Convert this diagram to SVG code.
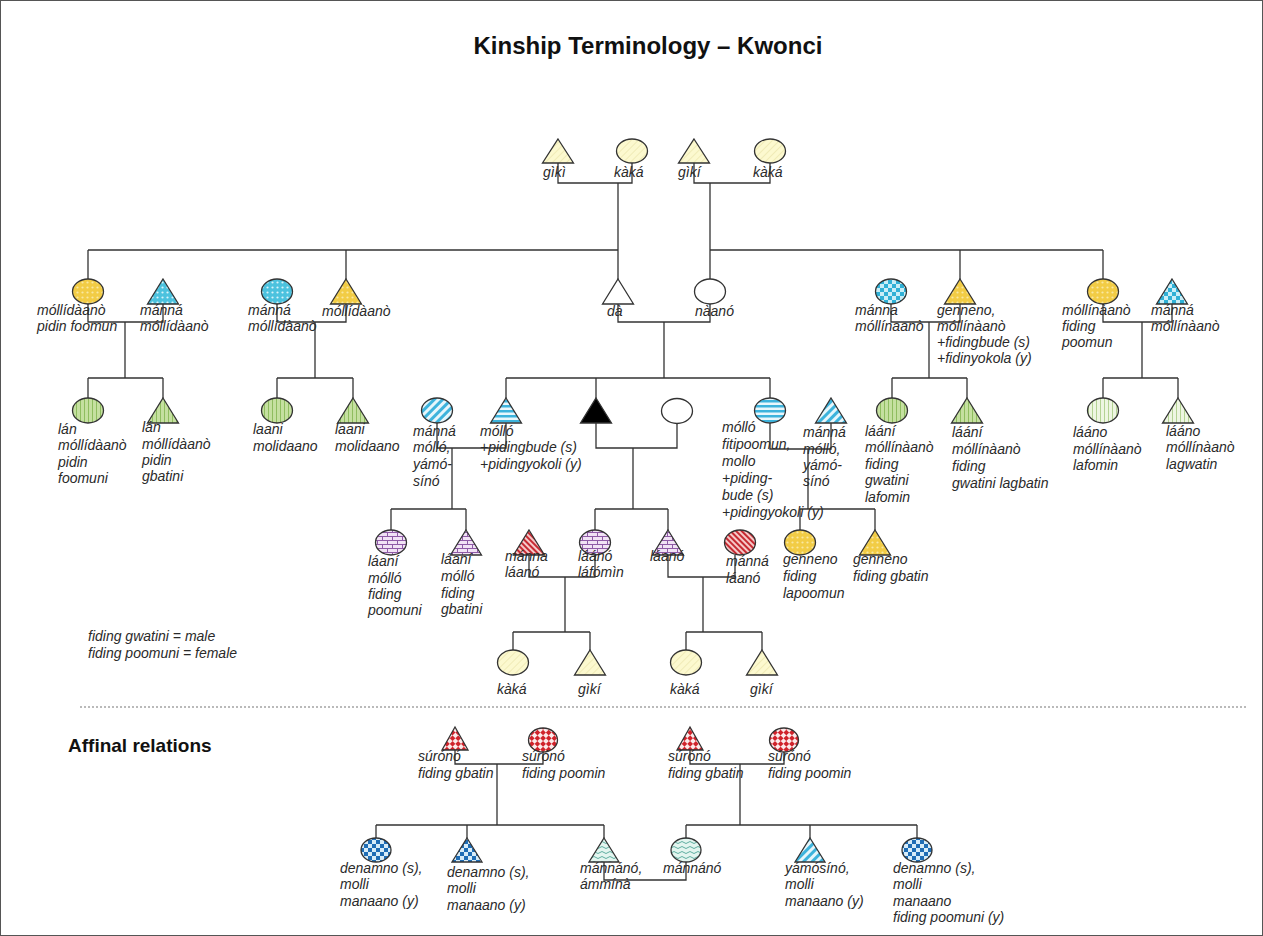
<svg xmlns="http://www.w3.org/2000/svg" width="1263" height="936" viewBox="0 0 1263 936">
<style>
.lbl{font-family:"Liberation Sans",Arial,sans-serif;font-size:14px;font-style:italic;fill:#2a2a2a}
.sh{stroke:#333;stroke-width:1.3}
.cn{stroke:#333;stroke-width:1.3;fill:none}
.title{font-family:"Liberation Sans",Arial,sans-serif;font-size:24px;font-weight:bold;fill:#111}
.head{font-family:"Liberation Sans",Arial,sans-serif;font-size:19px;font-weight:bold;fill:#111}
.leg{font-family:"Liberation Sans",Arial,sans-serif;font-size:14px;font-style:italic;fill:#2a2a2a}
</style>
<defs>
<pattern id="pPale" width="5" height="5" patternUnits="userSpaceOnUse" patternTransform="rotate(45)"><rect width="5" height="5" fill="#fcf9cf"/><rect width="0.6" height="5" fill="#e8e2a8"/></pattern>
<pattern id="pDotY" width="5" height="5" patternUnits="userSpaceOnUse"><rect width="5" height="5" fill="#f2cc45"/><circle cx="2.5" cy="2.5" r="1.1" fill="#fae8a2"/></pattern>
<pattern id="pDotC" width="5" height="5" patternUnits="userSpaceOnUse"><rect width="5" height="5" fill="#4cc2de"/><circle cx="2.5" cy="2.5" r="1.1" fill="#d9f4fb"/></pattern>
<pattern id="pChkC" width="8" height="8" patternUnits="userSpaceOnUse"><rect width="8" height="8" fill="#c9eef7"/><rect width="4" height="4" fill="#2fb0d6"/><rect x="4" y="4" width="4" height="4" fill="#2fb0d6"/></pattern>
<pattern id="pVG" width="4" height="4" patternUnits="userSpaceOnUse"><rect width="4" height="4" fill="#c5e0a0"/><rect width="1" height="4" fill="#8fbd5f"/></pattern>
<pattern id="pVGl" width="4" height="4" patternUnits="userSpaceOnUse"><rect width="4" height="4" fill="#eef6e2"/><rect width="0.8" height="4" fill="#a6ca80"/></pattern>
<pattern id="pDiagC" width="6" height="6" patternUnits="userSpaceOnUse" patternTransform="rotate(45)"><rect width="6" height="6" fill="#e6f6fb"/><rect width="3" height="6" fill="#3db3dc"/></pattern>
<pattern id="pHC" width="5" height="5" patternUnits="userSpaceOnUse"><rect width="5" height="5" fill="#e9f7fc"/><rect width="5" height="2.5" fill="#3db3dc"/></pattern>
<pattern id="pBrick" width="10" height="8" patternUnits="userSpaceOnUse"><rect width="10" height="8" fill="#f1e2f5"/><path d="M0,0.5H10M0,4.5H10M2.5,0.5V4.5M7.5,4.5V8" stroke="#8e5aa6" stroke-width="1" fill="none"/></pattern>
<pattern id="pDiagR" width="4" height="4" patternUnits="userSpaceOnUse" patternTransform="rotate(-45)"><rect width="4" height="4" fill="#f6c9c9"/><rect width="2" height="4" fill="#c62a32"/></pattern>
<pattern id="pRedChk" width="8" height="8" patternUnits="userSpaceOnUse" patternTransform="rotate(45)"><rect width="8" height="8" fill="#fbeaea"/><rect width="4" height="4" fill="#d0232b"/><rect x="4" y="4" width="4" height="4" fill="#d0232b"/></pattern>
<pattern id="pBlueChk" width="8" height="8" patternUnits="userSpaceOnUse"><rect width="8" height="8" fill="#d7ecf8"/><rect width="4" height="4" fill="#1f6db5"/><rect x="4" y="4" width="4" height="4" fill="#1f6db5"/></pattern>
<pattern id="pWave" width="8" height="5" patternUnits="userSpaceOnUse"><rect width="8" height="5" fill="#e3f5ef"/><path d="M0,2.5 Q2,0.5 4,2.5 T8,2.5" stroke="#3c9c8c" stroke-width="0.8" fill="none"/></pattern>
</defs>
<rect x="0.5" y="0.5" width="1262" height="935" fill="#fff" stroke="#555" stroke-width="1"/>
<text class="title" x="648" y="54" text-anchor="middle">Kinship Terminology – Kwonci</text>

<g id="connectors">
<path class="cn" d="M558,163 V183 H632 V163 M618,183 V250 M694,163 V183 H770 V163 M710,183 V250"/>
<path class="cn" d="M88,250 H618 M710,250 H1103 M88,250 V279 M346,250 V279 M618,250 V279 M710,250 V279 M960,250 V279 M1103,250 V279"/>
<path class="cn" d="M88,304 V322 H163 V304 M125,322 V378 M88,378 H163 M88,378 V398 M163,378 V398"/>
<path class="cn" d="M277,304 V322 H346 V304 M315,322 V378 M277,378 H353 M277,378 V398 M353,378 V398"/>
<path class="cn" d="M618,304 V322 H710 V304 M664,322 V378 M506,378 H770 M506,378 V398 M596,378 V398 M770,378 V398"/>
<path class="cn" d="M891,304 V322 H960 V304 M929,322 V378 M892,378 H967 M892,378 V398 M967,378 V398"/>
<path class="cn" d="M1103,304 V322 H1172 V304 M1142,322 V378 M1103,378 H1178 M1103,378 V398 M1178,378 V398"/>
<path class="cn" d="M437,423 V448 H506 V423 M452,448 V509 M391,509 H466 M391,509 V530 M466,509 V530"/>
<path class="cn" d="M596,423 V448 H677 V423 M633,448 V509 M595,509 H668 M595,509 V530 M668,509 V530"/>
<path class="cn" d="M770,423 V449 H831 V423 M808,449 V509 M800,509 H875 M800,509 V530 M875,509 V530"/>
<path class="cn" d="M529,555 V577 H595 V555 M565,577 V632 M513,632 H590 M513,632 V650 M590,632 V650"/>
<path class="cn" d="M668,555 V577 H735 V555 M703,577 V632 M686,632 H762 M686,632 V650 M762,632 V650"/>
<path class="cn" d="M455,750 V764 H543 V752 M497,764 V825 M376,825 H604 M376,825 V838 M467,825 V838 M604,825 V838"/>
<path class="cn" d="M690,750 V764 H784 V752 M740,764 V825 M686,825 H917 M686,825 V838 M810,825 V838 M917,825 V838"/>
<path class="cn" d="M604,862 V880 H686 V862"/>
</g>

<line x1="80" y1="707" x2="1248" y2="707" stroke="#777" stroke-width="1.2" stroke-dasharray="2,2"/>

<!-- Row 1 -->
<g id="gp1"><path class="sh" fill="url(#pPale)" d="M558,139 L573.5,163 L542.5,163 Z"/><text class="lbl" x="543" y="177">gìkì</text></g>
<g id="gm1"><ellipse class="sh" fill="url(#pPale)" cx="632" cy="151" rx="15.5" ry="12"/><text class="lbl" x="614" y="177">kàká</text></g>
<g id="gp2"><path class="sh" fill="url(#pPale)" d="M694,139 L709.5,163 L678.5,163 Z"/><text class="lbl" x="678" y="177">gìkí</text></g>
<g id="gm2"><ellipse class="sh" fill="url(#pPale)" cx="770" cy="151" rx="15.5" ry="12"/><text class="lbl" x="753" y="177">kàká</text></g>

<!-- Row 2 -->
<g id="r2_c88"><ellipse class="sh" fill="url(#pDotY)" cx="88" cy="291.5" rx="15.5" ry="12.5"/><text class="lbl"><tspan x="37" y="315">móllídàanò</tspan><tspan x="37" y="331">pidin foomun</tspan></text></g>
<g id="r2_t163"><path class="sh" fill="url(#pDotC)" d="M163,279 L178.5,304 L147.5,304 Z"/><text class="lbl"><tspan x="140" y="315">mánná</tspan><tspan x="140" y="331">móllídàanò</tspan></text></g>
<g id="r2_c277"><ellipse class="sh" fill="url(#pDotC)" cx="277" cy="291.5" rx="15.5" ry="12.5"/><text class="lbl"><tspan x="248" y="315">mánná</tspan><tspan x="248" y="331">móllídàanò</tspan></text></g>
<g id="r2_t346"><path class="sh" fill="url(#pDotY)" d="M346,279 L361.5,304 L330.5,304 Z"/><text class="lbl" x="322" y="316">móllídàanò</text></g>
<g id="r2_da"><path class="sh" fill="#fff" d="M618,279 L633.5,304 L602.5,304 Z"/><text class="lbl" x="607" y="316">dà</text></g>
<g id="r2_naano"><ellipse class="sh" fill="#fff" cx="710" cy="291.5" rx="15.5" ry="12.5"/><text class="lbl" x="695" y="316">nàanó</text></g>
<g id="r2_c891"><ellipse class="sh" fill="url(#pChkC)" cx="891" cy="291.5" rx="15.5" ry="12.5"/><text class="lbl"><tspan x="855" y="315">mánna</tspan><tspan x="855" y="331">móllínaanò</tspan></text></g>
<g id="r2_t960"><path class="sh" fill="url(#pDotY)" d="M960,279 L975.5,304 L944.5,304 Z"/><text class="lbl"><tspan x="937" y="315">genneno,</tspan><tspan x="937" y="331">móllínàanò</tspan><tspan x="937" y="347">+fidingbude (s)</tspan><tspan x="937" y="363">+fidinyokola (y)</tspan></text></g>
<g id="r2_c1103"><ellipse class="sh" fill="url(#pDotY)" cx="1103" cy="291.5" rx="15.5" ry="12.5"/><text class="lbl"><tspan x="1062" y="315">móllínàanò</tspan><tspan x="1062" y="331">fiding</tspan><tspan x="1062" y="347">poomun</tspan></text></g>
<g id="r2_t1172"><path class="sh" fill="url(#pChkC)" d="M1172,279 L1187.5,304 L1156.5,304 Z"/><text class="lbl"><tspan x="1151" y="315">mánná</tspan><tspan x="1151" y="331">móllínàanò</tspan></text></g>

<!-- Row 3 -->
<g id="r3_c88"><ellipse class="sh" fill="url(#pVG)" cx="88" cy="410.5" rx="15.5" ry="12.5"/><text class="lbl"><tspan x="58" y="434">lán</tspan><tspan x="58" y="450">móllídàanò</tspan><tspan x="58" y="467">pidin</tspan><tspan x="58" y="483">foomuni</tspan></text></g>
<g id="r3_t163"><path class="sh" fill="url(#pVG)" d="M163,398 L178.5,423 L147.5,423 Z"/><text class="lbl"><tspan x="142" y="432">lán</tspan><tspan x="142" y="449">móllídàanò</tspan><tspan x="142" y="465">pidin</tspan><tspan x="142" y="481">gbatini</tspan></text></g>
<g id="r3_c277"><ellipse class="sh" fill="url(#pVG)" cx="277" cy="410.5" rx="15.5" ry="12.5"/><text class="lbl"><tspan x="253" y="434">laani</tspan><tspan x="253" y="451">molidaano</tspan></text></g>
<g id="r3_t353"><path class="sh" fill="url(#pVG)" d="M353,398 L368.5,423 L337.5,423 Z"/><text class="lbl"><tspan x="335" y="434">laani</tspan><tspan x="335" y="451">molidaano</tspan></text></g>
<g id="r3_c437"><ellipse class="sh" fill="url(#pDiagC)" cx="437" cy="410.5" rx="15.5" ry="12.5"/><text class="lbl"><tspan x="413" y="436">mánná</tspan><tspan x="413" y="452">mólló,</tspan><tspan x="413" y="469">yámó-</tspan><tspan x="413" y="486">sínó</tspan></text></g>
<g id="r3_t506"><path class="sh" fill="url(#pHC)" d="M506,398 L521.5,423 L490.5,423 Z"/><text class="lbl"><tspan x="480" y="436">mólló</tspan><tspan x="480" y="452">+pidingbude (s)</tspan><tspan x="480" y="469">+pidingyokoli (y)</tspan></text></g>
<g id="ego"><path class="sh" fill="#000" d="M596,398 L611.5,423 L580.5,423 Z"/></g>
<g id="ego_wife"><ellipse class="sh" fill="#fff" cx="677" cy="411" rx="15.5" ry="12.5"/></g>
<g id="r3_c770"><ellipse class="sh" fill="url(#pHC)" cx="770" cy="410.5" rx="15.5" ry="12.5"/><text class="lbl"><tspan x="722" y="432">mólló</tspan><tspan x="722" y="449">fitipoomun,</tspan><tspan x="722" y="466">mollo</tspan><tspan x="722" y="483">+piding-</tspan><tspan x="722" y="500">bude (s)</tspan><tspan x="722" y="517">+pidingyokoli (y)</tspan></text></g>
<g id="r3_t831"><path class="sh" fill="url(#pDiagC)" d="M831,398 L846.5,423 L815.5,423 Z"/><text class="lbl"><tspan x="803" y="437">mánná</tspan><tspan x="803" y="454">mólló,</tspan><tspan x="803" y="470">yámó-</tspan><tspan x="803" y="486">sínó</tspan></text></g>
<g id="r3_c892"><ellipse class="sh" fill="url(#pVG)" cx="892" cy="410.5" rx="15.5" ry="12.5"/><text class="lbl"><tspan x="865" y="436">láání</tspan><tspan x="865" y="452">móllínàanò</tspan><tspan x="865" y="469">fiding</tspan><tspan x="865" y="485">gwatini</tspan><tspan x="865" y="502">lafomin</tspan></text></g>
<g id="r3_t967"><path class="sh" fill="url(#pVG)" d="M967,398 L982.5,423 L951.5,423 Z"/><text class="lbl"><tspan x="952" y="437">láání</tspan><tspan x="952" y="454">móllínàanò</tspan><tspan x="952" y="471">fiding</tspan><tspan x="952" y="488">gwatini lagbatin</tspan></text></g>
<g id="r3_c1103"><ellipse class="sh" fill="url(#pVGl)" cx="1103" cy="410.5" rx="15.5" ry="12.5"/><text class="lbl"><tspan x="1073" y="437">lááno</tspan><tspan x="1073" y="454">móllínàanò</tspan><tspan x="1073" y="470">lafomin</tspan></text></g>
<g id="r3_t1178"><path class="sh" fill="url(#pVGl)" d="M1178,398 L1193.5,423 L1162.5,423 Z"/><text class="lbl"><tspan x="1166" y="436">lááno</tspan><tspan x="1166" y="452">móllínàanò</tspan><tspan x="1166" y="469">lagwatin</tspan></text></g>

<!-- Row 4 -->
<g id="r4_c391"><ellipse class="sh" fill="url(#pBrick)" cx="391" cy="542.5" rx="15.5" ry="12.5"/><text class="lbl"><tspan x="368" y="566">láaní</tspan><tspan x="368" y="583">mólló</tspan><tspan x="368" y="599">fiding</tspan><tspan x="368" y="615">poomuni</tspan></text></g>
<g id="r4_t466"><path class="sh" fill="url(#pBrick)" d="M466,530 L481.5,555 L450.5,555 Z"/><text class="lbl"><tspan x="441" y="564">láaní</tspan><tspan x="441" y="581">mólló</tspan><tspan x="441" y="598">fiding</tspan><tspan x="441" y="614">gbatini</tspan></text></g>
<g id="r4_t529"><path class="sh" fill="url(#pDiagR)" d="M529,530 L544.5,555 L513.5,555 Z"/><text class="lbl"><tspan x="505" y="561">mánna</tspan><tspan x="505" y="577">láanó</tspan></text></g>
<g id="r4_c595"><ellipse class="sh" fill="url(#pBrick)" cx="595" cy="542.5" rx="15.5" ry="12.5"/><text class="lbl"><tspan x="578" y="561">láánó</tspan><tspan x="578" y="577">láfómìn</tspan></text></g>
<g id="r4_t668"><path class="sh" fill="url(#pBrick)" d="M668,530 L683.5,555 L652.5,555 Z"/><text class="lbl" x="650" y="561">láanó</text></g>
<g id="r4_c740"><ellipse class="sh" fill="url(#pDiagR)" cx="740" cy="542.5" rx="15.5" ry="12.5"/><text class="lbl"><tspan x="726" y="566">mánná</tspan><tspan x="726" y="583">láanó</tspan></text></g>
<g id="r4_c800"><ellipse class="sh" fill="url(#pDotY)" cx="800" cy="542.5" rx="15.5" ry="12.5"/><text class="lbl"><tspan x="783" y="564">genneno</tspan><tspan x="783" y="581">fiding</tspan><tspan x="783" y="598">lapoomun</tspan></text></g>
<g id="r4_t875"><path class="sh" fill="url(#pDotY)" d="M875,530 L890.5,555 L859.5,555 Z"/><text class="lbl"><tspan x="853" y="564">genneno</tspan><tspan x="853" y="581">fiding gbatin</tspan></text></g>

<!-- Row 5 -->
<g id="r5_c513"><ellipse class="sh" fill="url(#pPale)" cx="513" cy="662.5" rx="15.5" ry="12.5"/><text class="lbl" x="497" y="694">kàká</text></g>
<g id="r5_t590"><path class="sh" fill="url(#pPale)" d="M590,650 L605.5,675 L574.5,675 Z"/><text class="lbl" x="578" y="694">gìkí</text></g>
<g id="r5_c686"><ellipse class="sh" fill="url(#pPale)" cx="686" cy="662.5" rx="15.5" ry="12.5"/><text class="lbl" x="670" y="694">kàká</text></g>
<g id="r5_t762"><path class="sh" fill="url(#pPale)" d="M762,650 L777.5,675 L746.5,675 Z"/><text class="lbl" x="750" y="694">gìkí</text></g>

<g id="legend"><text class="leg"><tspan x="88" y="641">fiding gwatini = male</tspan><tspan x="88" y="658">fiding poomuni = female</tspan></text></g>

<!-- Affinal -->
<text class="head" x="68" y="752">Affinal relations</text>
<g id="af_t455"><path class="sh" fill="url(#pRedChk)" d="M455,727 L468,750 L442,750 Z"/><text class="lbl"><tspan x="418" y="761">súrónó</tspan><tspan x="418" y="778">fiding gbatin</tspan></text></g>
<g id="af_c543"><ellipse class="sh" fill="url(#pRedChk)" cx="543" cy="740" rx="14.5" ry="12"/><text class="lbl"><tspan x="522" y="761">súrónó</tspan><tspan x="522" y="778">fiding poomin</tspan></text></g>
<g id="af_t690"><path class="sh" fill="url(#pRedChk)" d="M690,727 L703,750 L677,750 Z"/><text class="lbl"><tspan x="668" y="761">súrónó</tspan><tspan x="668" y="778">fiding gbatin</tspan></text></g>
<g id="af_c784"><ellipse class="sh" fill="url(#pRedChk)" cx="784" cy="740" rx="14.5" ry="12"/><text class="lbl"><tspan x="768" y="761">súrónó</tspan><tspan x="768" y="778">fiding poomin</tspan></text></g>

<g id="af_c376"><ellipse class="sh" fill="url(#pBlueChk)" cx="376" cy="850" rx="15" ry="12"/><text class="lbl"><tspan x="340" y="873">denamno (s),</tspan><tspan x="340" y="889">molli</tspan><tspan x="340" y="906">manaano (y)</tspan></text></g>
<g id="af_t467"><path class="sh" fill="url(#pBlueChk)" d="M467,838 L482,862 L452,862 Z"/><text class="lbl"><tspan x="447" y="877">denamno (s),</tspan><tspan x="447" y="893">molli</tspan><tspan x="447" y="910">manaano (y)</tspan></text></g>
<g id="af_t604"><path class="sh" fill="url(#pWave)" d="M604,838 L619,862 L589,862 Z"/><text class="lbl"><tspan x="580" y="873">mánnánó,</tspan><tspan x="580" y="889">ámmínà</tspan></text></g>
<g id="af_c686"><ellipse class="sh" fill="url(#pWave)" cx="686" cy="850" rx="15" ry="12"/><text class="lbl" x="663" y="873">mánnánó</text></g>
<g id="af_t810"><path class="sh" fill="url(#pDiagC)" d="M810,838 L825,862 L795,862 Z"/><text class="lbl"><tspan x="785" y="873">yámósínó,</tspan><tspan x="785" y="889">molli</tspan><tspan x="785" y="906">manaano (y)</tspan></text></g>
<g id="af_c917"><ellipse class="sh" fill="url(#pBlueChk)" cx="917" cy="850" rx="15" ry="12"/><text class="lbl"><tspan x="893" y="873">denamno (s),</tspan><tspan x="893" y="889">molli</tspan><tspan x="893" y="906">manaano</tspan><tspan x="893" y="922">fiding poomuni (y)</tspan></text></g>
</svg>
